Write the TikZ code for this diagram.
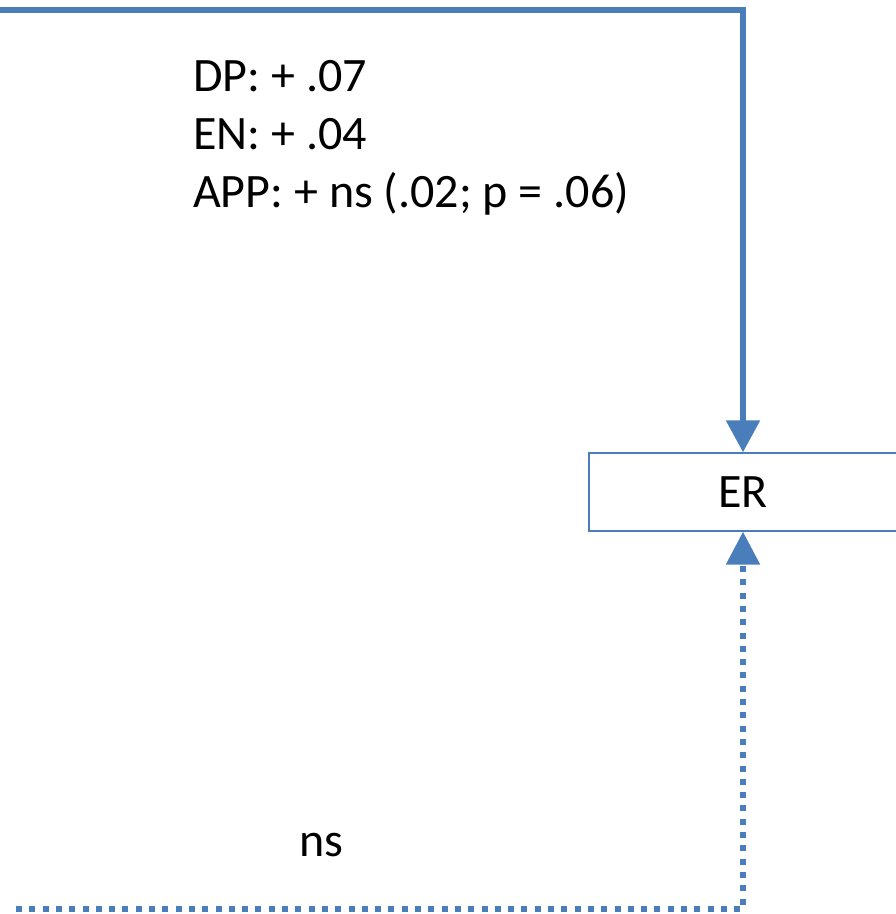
\documentclass[tikz,border=0pt]{standalone}
\usepackage{fontspec}
\setmainfont{Carlito}
\usetikzlibrary{arrows.meta}
\definecolor{linkblue}{HTML}{4A7EBB}
\tikzset{
  path/.style={draw=linkblue, line width=5.5pt, line join=miter},
  solidpath/.style={path, -{Triangle[width=33pt,length=32pt]}},
  dottedpath/.style={path, dash pattern=on 6pt off 7.3pt, dash phase=-1pt,
                     -{Triangle[width=33pt,length=33pt]}},
  outcome/.style={draw=linkblue, line width=1.4pt, fill=white,
                  minimum width=308pt, minimum height=78pt, inner sep=0pt,
                  font=\fontsize{48}{56}\selectfont},
  effect/.style={anchor=base west, inner sep=0pt, font=\fontsize{48}{56}\selectfont}
}
\begin{document}
\begin{tikzpicture}[x=1pt,y=-1pt]
  \useasboundingbox (0,0) rectangle (896,914);

  % outcome box
  \node[outcome] (er) at (743,492) {ER};

  % path corners
  \coordinate (topstart) at (-5,10);
  \coordinate (topcorner) at (743,10);
  \coordinate (botstart) at (15,909);
  \coordinate (botcorner) at (743,909);

  % significant path (solid) and non-significant path (dotted)
  \draw[solidpath] (topstart) -- (topcorner) -- (er.north);
  \draw[dottedpath] (botstart) -- (botcorner) -- (er.south);

  % path labels
  \node[effect] (dp) at (193,91) {DP: + .07};
  \node[effect] (en) at (193,149) {EN: + .04};
  \node[effect] (app) at (193,207) {APP: + ns (.02; p = .06)};
  \node[effect] (ns) at (299,856) {ns};
\end{tikzpicture}
\end{document}
